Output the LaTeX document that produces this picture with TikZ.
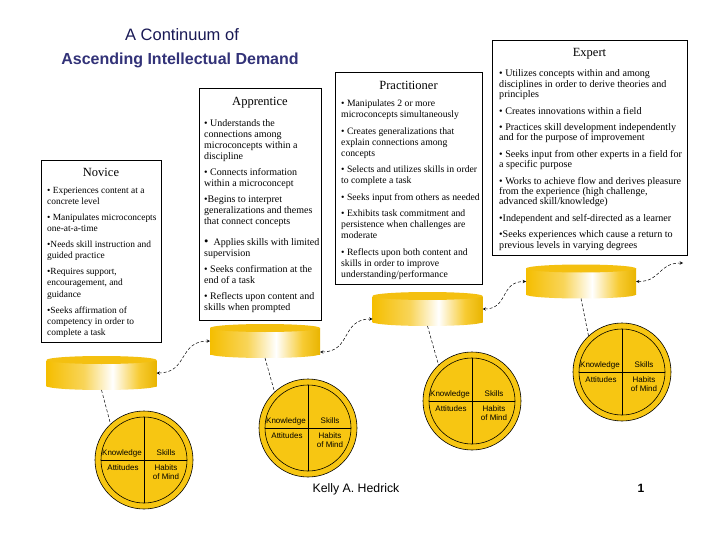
\documentclass[tikz,border=0pt]{standalone}
\usepackage{fontspec}
\setmainfont{Liberation Serif}
\setsansfont{Liberation Sans}
\usetikzlibrary{arrows, positioning, calc}

\definecolor{piegold}{RGB}{247,198,18}
\definecolor{cylgold}{RGB}{245,190,0}
\definecolor{cyltop}{RGB}{244,192,16}
\definecolor{titledark}{RGB}{25,25,85}
\definecolor{titleblue}{RGB}{50,50,120}

% gold - white - gold band for the cylinders
\pgfdeclarehorizontalshading{cylshade}{100bp}{color(0bp)=(cylgold); color(25bp)=(cylgold); color(42bp)=(cylgold!65!white); color(55bp)=(white); color(67bp)=(cylgold!80!white); color(75bp)=(cylgold!95!black); color(100bp)=(cylgold!95!black)}

\begin{document}
\begin{tikzpicture}[x=1pt, y=-1pt,
  stagebox/.style={draw, line width=0.8pt, fill=white, anchor=north west, inner sep=0pt, outer sep=0pt},
  stagehead/.style={font=\fontsize{12.5}{14}\selectfont, anchor=base},
  stagetext/.style={anchor=north west, align=left, inner sep=0pt},
  cyl/.style={shade, shading=cylshade, minimum width=110pt, minimum height=26pt, inner sep=0pt, outer sep=0pt},
  pie/.style={circle, draw, line width=0.6pt, fill=piegold, minimum size=98pt, inner sep=0pt, outer sep=0pt},
  pietext/.style={font=\sffamily\fontsize{8}{9}\selectfont, inner sep=0pt, align=center},
  tether/.style={densely dashed, line width=0.5pt},
  link/.style={stealth-stealth, densely dashed, line width=0.5pt, out=0, in=180, looseness=1.3}]

  \fill[white] (0,0) rectangle (720,540);
  \useasboundingbox (0,0) rectangle (720,540);

  % Title
  \node[font=\sffamily\fontsize{16.5}{20}\selectfont, text=titledark, anchor=base] (title1) at (182,41) {A Continuum of};
  \node[font=\sffamily\bfseries\fontsize{16}{20}\selectfont, text=titleblue, anchor=base] (title2) at (180,65) {Ascending Intellectual Demand};

  % Novice
  \node[stagebox, minimum width=120, minimum height=182] (novice) at (41,160) {};
  \node[stagehead] (novice-head) at ([yshift=-17pt]novice.north) {Novice};
  \node[stagetext, font=\fontsize{9.4}{11.3}\selectfont] (novice-text) at ([shift={(6,26.6)}]novice.north west) {%
    \textbullet\ Experiences content at a\\concrete level\\[4.6pt]
    \textbullet\ Manipulates microconcepts\\one-at-a-time\\[4.6pt]
    \textbullet Needs skill instruction and\\guided practice\\[4.6pt]
    \textbullet Requires support,\\encouragement, and\\guidance\\[4.6pt]
    \textbullet Seeks affirmation of\\competency in order to\\complete a task};

  % Apprentice
  \node[stagebox, minimum width=122, minimum height=232] (apprentice) at (199,88) {};
  \node[stagehead] (apprentice-head) at ([yshift=-18pt]apprentice.north) {Apprentice};
  \node[stagetext, font=\fontsize{10}{11}\selectfont] (apprentice-text) at ([shift={(5,31.6)}]apprentice.north west) {%
    \textbullet\ Understands the\\connections among\\microconcepts within a\\discipline\\[5pt]
    \textbullet\ Connects information\\within a microconcept\\[5pt]
    \textbullet Begins to interpret\\generalizations and themes\\that connect concepts\\[10pt]
    {\fontsize{12.5}{11}\selectfont\textbullet}\ \ Applies skills with limited\\supervision\\[5pt]
    \textbullet\ Seeks confirmation at the\\end of a task\\[5pt]
    \textbullet\ Reflects upon content and\\skills when prompted};

  % Practitioner
  \node[stagebox, minimum width=147, minimum height=212] (practitioner) at (335,72) {};
  \node[stagehead] (practitioner-head) at ([yshift=-18pt]practitioner.north) {Practitioner};
  \node[stagetext, font=\fontsize{9.7}{11}\selectfont] (practitioner-text) at ([shift={(6,27.6)}]practitioner.north west) {%
    \textbullet\ Manipulates 2 or more\\microconcepts simultaneously\\[5.5pt]
    \textbullet\ Creates generalizations that\\explain connections among\\concepts\\[5.5pt]
    \textbullet\ Selects and utilizes skills in order\\to complete a task\\[5.5pt]
    \textbullet\ Seeks input from others as needed\\[5.5pt]
    \textbullet\ Exhibits task commitment and\\persistence when challenges are\\moderate\\[5.5pt]
    \textbullet\ Reflects upon both content and\\skills in order to improve\\understanding/performance};

  % Expert
  \node[stagebox, minimum width=195, minimum height=215] (expert) at (492,40) {};
  \node[stagehead] (expert-head) at ([yshift=-17pt]expert.north) {Expert};
  \node[stagetext, font=\fontsize{10.1}{10.4}\selectfont] (expert-text) at ([shift={(7,29.6)}]expert.north west) {%
    \textbullet\ Utilizes concepts within and among\\disciplines in order to derive theories and\\principles\\[6pt]
    \textbullet\ Creates innovations within a field\\[6pt]
    \textbullet\ Practices skill development independently\\and for the purpose of improvement\\[6pt]
    \textbullet\ Seeks input from other experts in a field for\\a specific purpose\\[6pt]
    \textbullet\ Works to achieve flow and derives pleasure\\from the experience (high challenge,\\advanced skill/knowledge)\\[6pt]
    \textbullet Independent and self-directed as a learner\\[6pt]
    \textbullet Seeks experiences which cause a return to\\previous levels in varying degrees};

  % Level cylinders
  \foreach \n/\cx/\cy in {n/101.5/373, a/265/341, p/427.5/309, e/581/281.5}{
    \node[cyl] (cyl-\n) at (\cx,\cy) {};
    \shade[shading=cylshade] (cyl-\n.south) ellipse (55 and 4);
    \fill[cyltop] (cyl-\n.north) ellipse (55 and 4);
  }

  % Knowledge / skills circles
  \foreach \n/\cx/\cy in {n/144/460, a/308/428, p/472/401, e/622/372}{
    \node[pie] (pie-\n) at (\cx,\cy) {};
    \draw[line width=0.6pt] (pie-\n.center) circle (43);
    \draw[line width=0.6pt] ([yshift=43pt]pie-\n.center) -- ([yshift=-43pt]pie-\n.center);
    \draw[line width=0.6pt] ([xshift=-43pt]pie-\n.center) -- ([xshift=43pt]pie-\n.center);
    \node[pietext] (know-\n) at ([shift={(-22,-7)}]pie-\n.center) {Knowledge};
    \node[pietext] (skill-\n) at ([shift={(22,-7)}]pie-\n.center) {Skills};
    \node[pietext] (att-\n) at ([shift={(-21,8)}]pie-\n.center) {Attitudes};
    \node[pietext] (hab-\n) at ([shift={(22,12.5)}]pie-\n.center) {Habits\\of Mind};
  }

  % Tethers from cylinders to circles
  \foreach \n in {n,a,p,e}
    \draw[tether] ([yshift=-4pt]cyl-\n.south) -- (pie-\n.133);

  % Links between levels
  \coordinate (beyond) at (683,263);
  \draw[link] (cyl-n.east) to (cyl-a.west);
  \draw[link] ([yshift=-11pt]cyl-a.east) to ([yshift=-10pt]cyl-p.west);
  \draw[link] (cyl-p.east) to (cyl-e.west);
  \draw[link] (cyl-e.east) to (beyond);

  % Footer
  \node[font=\sffamily\fontsize{12.3}{14}\selectfont, anchor=base] (author) at (356,492.5) {Kelly A. Hedrick};
  \node[font=\sffamily\bfseries\fontsize{12}{14}\selectfont, anchor=base] (page) at (641,492.5) {1};
\end{tikzpicture}
\end{document}
